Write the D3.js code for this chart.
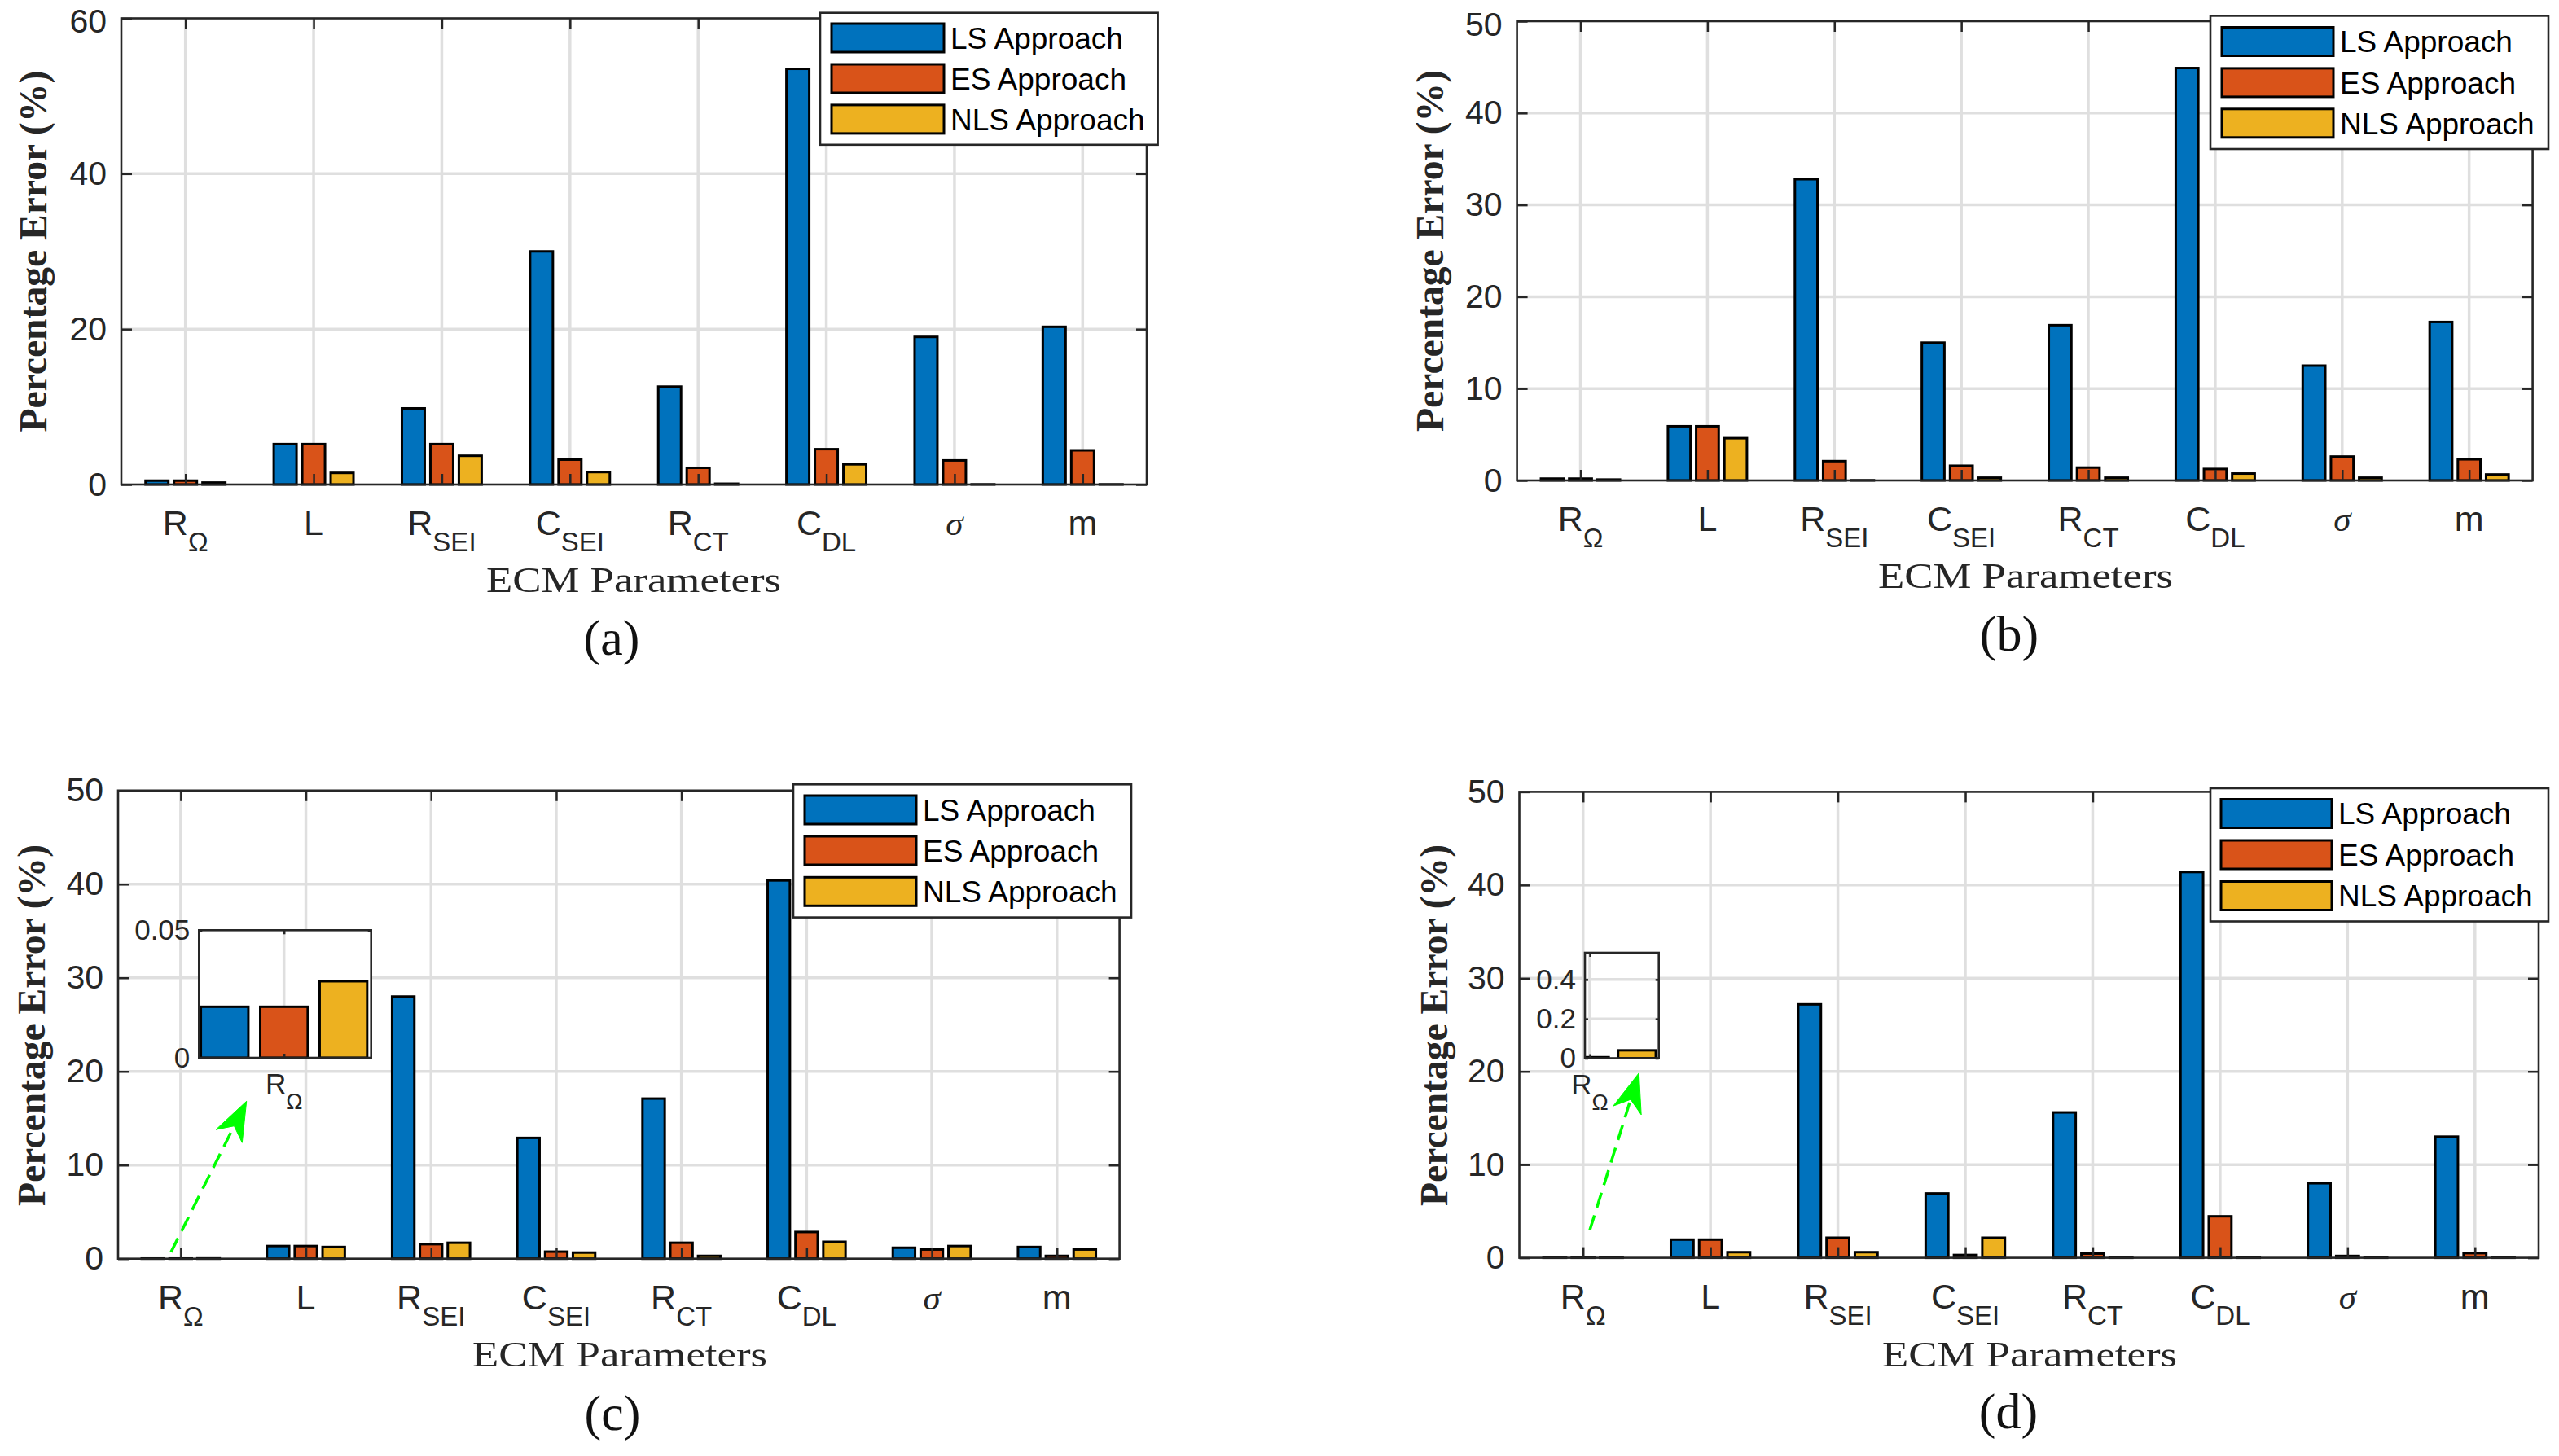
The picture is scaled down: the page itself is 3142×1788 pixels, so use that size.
<!DOCTYPE html>
<html><head><meta charset="utf-8">
<script src="https://cdn.jsdelivr.net/npm/d3@7/dist/d3.min.js"></script>
<style>body{margin:0;background:#fff}svg{display:block}</style>
</head><body>
<svg id="chart" width="3142" height="1788"></svg>
<script>
// ---------------- data ----------------
const categoryMain = ["R", "L", "R", "C", "R", "C", "\u03c3", "m"];
const categorySub  = ["\u03a9", "", "SEI", "SEI", "CT", "DL", "", ""];
const seriesNames  = ["LS Approach", "ES Approach", "NLS Approach"];
const seriesColors = ["#0072BD", "#D95319", "#EDB120"];
const panelLabels  = ["(a)", "(b)", "(c)", "(d)"];
const xAxisTitle = "ECM Parameters";
const yAxisTitle = "Percentage Error (%)";

const lsA  = [0.5, 5.2, 9.8, 30.0, 12.6, 53.5, 19.0, 20.3];
const esA  = [0.5, 5.2, 5.2, 3.2, 2.15, 4.55, 3.1, 4.4];
const nlsA = [0.25, 1.5, 3.7, 1.6, 0.1, 2.6, 0.02, 0.02];

const lsB  = [0.2, 5.9, 32.8, 15.0, 16.9, 44.9, 12.5, 17.25];
const esB  = [0.2, 5.9, 2.1, 1.6, 1.4, 1.25, 2.6, 2.3];
const nlsB = [0.1, 4.6, 0.02, 0.3, 0.3, 0.75, 0.3, 0.65];

const lsC  = [0.02, 1.35, 28.0, 12.9, 17.1, 40.4, 1.17, 1.25];
const esC  = [0.02, 1.35, 1.55, 0.75, 1.7, 2.85, 0.98, 0.3];
const nlsC = [0.03, 1.25, 1.7, 0.65, 0.3, 1.8, 1.35, 0.98];

const lsD  = [0.005, 1.95, 27.2, 6.9, 15.6, 41.4, 8.0, 13.0];
const esD  = [0.005, 1.95, 2.15, 0.3, 0.45, 4.45, 0.2, 0.5];
const nlsD = [0.04, 0.6, 0.6, 2.15, 0.05, 0.05, 0.05, 0.05];

const yTicks60 = [0, 20, 40, 60];
const yTicks50 = [0, 10, 20, 30, 40, 50];
const insetTicksC = [0, 0.05];
const insetTicksD = [0, 0.2, 0.4];

// ---------------- layout ----------------
const panels = [
  {data:[lsA,esA,nlsA], yMax:60, ticks:yTicks60, label:panelLabels[0],
   box:{l:149,r:1408,t:22.5,b:595},
   legend:{l:1007,r:1421.6,t:15.7,b:177.8,sl:1021,sr:1159,rows:[46.5,96.5,146.4]},
   ylab:{x:57,y:308.6}, xlab:{x:778,y:727}, plab:{x:751,y:804}},
  {data:[lsB,esB,nlsB], yMax:50, ticks:yTicks50, label:panelLabels[1],
   box:{l:1862.6,r:3109.6,t:26,b:590},
   legend:{l:2714,r:3129,t:19.4,b:183,sl:2728,sr:2865,rows:[51,101.4,151.3]},
   ylab:{x:1772,y:308}, xlab:{x:2487,y:722}, plab:{x:2467,y:799}},
  {data:[lsC,esC,nlsC], yMax:50, ticks:yTicks50, label:panelLabels[2],
   box:{l:145,r:1374.6,t:970.8,b:1545.7},
   legend:{l:974,r:1389,t:963.3,b:1126.6,sl:988,sr:1125,rows:[994.5,1044.5,1094.8]},
   ylab:{x:55,y:1259}, xlab:{x:761,y:1678}, plab:{x:752,y:1756}},
  {data:[lsD,esD,nlsD], yMax:50, ticks:yTicks50, label:panelLabels[3],
   box:{l:1865.5,r:3117,t:972.4,b:1544.6},
   legend:{l:2714,r:3129,t:968,b:1131.5,sl:2727,sr:2863,rows:[999,1049.5,1100]},
   ylab:{x:1777,y:1259}, xlab:{x:2492,y:1678}, plab:{x:2466,y:1754}}
];

const insets = [
  {panel:2, yMax:0.05, ticks:insetTicksC, xlim:[0.682,1.326],
   box:{l:244.3,r:455.7,t:1142.3,b:1299}},
  {panel:3, yMax:0.536, ticks:insetTicksD, xlim:[0.977,1.325],
   box:{l:1946,r:2036.7,t:1170,b:1299.5}}
];

const arrows = [
  {x1:210, y1:1537.6, x2:302.7, y2:1352.3},
  {x1:1952, y1:1510.6, x2:2012.3, y2:1317.7}
];

const barOffsets = [-0.2222, 0, 0.2222];
const barWidth = 0.1778;
const AX = "#262626";
const GRID = "#dfdfdf";
const SANS = "'Liberation Sans', Arial, Helvetica, sans-serif";
const SERIF = "'Liberation Serif', 'Times New Roman', serif";

const svg = d3.select("#chart");
svg.append("rect").attr("width",3142).attr("height",1788).attr("fill","#fff");

function catLabel(g, cx, base, main, sub, fs, sfs, sdy, italic){
  const t = g.append("text").attr("x", cx).attr("y", base)
    .attr("text-anchor","middle").attr("fill", AX)
    .attr("font-family", italic ? SERIF : SANS).attr("font-size", fs);
  const m = t.append("tspan").text(main);
  if (italic) m.attr("font-style","italic");
  if (sub) t.append("tspan").attr("dy", sdy).attr("font-size", sfs)
              .attr("font-family", SANS).text(sub);
}

function styleAxis(sel, fs){
  sel.select(".domain").remove();
  sel.selectAll(".tick line").attr("stroke", AX).attr("stroke-width", 2.5);
  sel.selectAll(".tick text").attr("fill", AX).attr("font-family", SANS).attr("font-size", fs);
  sel.attr("font-family", null).attr("font-size", null);
}

panels.forEach((p, pi) => {
  const g = svg.append("g");
  const b = p.box;
  const x = d3.scaleLinear().domain([0.5, categoryMain.length + 0.5]).range([b.l, b.r]);
  const y = d3.scaleLinear().domain([0, p.yMax]).range([b.b, b.t]);
  const cats = d3.range(1, categoryMain.length + 1);

  // grid
  g.append("g").selectAll("line").data(p.ticks.filter(d => d > 0 && d < p.yMax)).join("line")
    .attr("x1", b.l).attr("x2", b.r).attr("y1", d => y(d)).attr("y2", d => y(d))
    .attr("stroke", GRID).attr("stroke-width", 3.5);
  g.append("g").selectAll("line").data(cats).join("line")
    .attr("x1", d => x(d)).attr("x2", d => x(d)).attr("y1", b.t).attr("y2", b.b)
    .attr("stroke", GRID).attr("stroke-width", 3.5);

  // bars
  p.data.forEach((vals, s) => {
    g.append("g").selectAll("rect").data(vals).join("rect")
      .attr("x", (d, i) => x(i + 1 + barOffsets[s] - barWidth / 2))
      .attr("width", x(barWidth) - x(0))
      .attr("y", d => y(d)).attr("height", d => y(0) - y(d))
      .attr("fill", seriesColors[s]).attr("stroke", "#000").attr("stroke-width", 3);
  });

  // axes
  const yl = g.append("g").attr("transform", `translate(${b.l},0)`)
    .call(d3.axisLeft(y).tickValues(p.ticks).tickSize(-13).tickPadding(18).tickFormat(d3.format("d")));
  styleAxis(yl, 41);
  // keep the topmost label fully inside the page
  yl.selectAll(".tick text").attr("dy", d => (y(d) < 30 ? "0.42em" : "0.32em"));
  const yr = g.append("g").attr("transform", `translate(${b.r},0)`)
    .call(d3.axisRight(y).tickValues(p.ticks).tickSize(-13).tickFormat(""));
  styleAxis(yr, 41);
  const xb = g.append("g").attr("transform", `translate(0,${b.b})`)
    .call(d3.axisBottom(x).tickValues(cats).tickSize(-13).tickFormat(""));
  styleAxis(xb, 41);
  const xt = g.append("g").attr("transform", `translate(0,${b.t})`)
    .call(d3.axisTop(x).tickValues(cats).tickSize(-13).tickFormat(""));
  styleAxis(xt, 41);
  g.append("rect").attr("x", b.l).attr("y", b.t).attr("width", b.r - b.l).attr("height", b.b - b.t)
    .attr("fill", "none").attr("stroke", AX).attr("stroke-width", 2.6);

  // category labels
  cats.forEach((c, i) => {
    catLabel(g, x(c), b.b + 62, categoryMain[i], categorySub[i], 43, 33, 20, categoryMain[i] === "\u03c3");
  });

  // axis titles
  g.append("text").attr("transform", `translate(${p.ylab.x},${p.ylab.y}) rotate(-90)`)
    .attr("text-anchor", "middle").attr("font-family", SERIF).attr("font-weight", "bold")
    .attr("font-size", 48).attr("fill", AX)
    .attr("textLength", 444).attr("lengthAdjust", "spacingAndGlyphs").text(yAxisTitle);
  g.append("text").attr("x", p.xlab.x).attr("y", p.xlab.y).attr("text-anchor", "middle")
    .attr("font-family", SERIF).attr("font-size", 45).attr("fill", AX)
    .attr("textLength", 362).attr("lengthAdjust", "spacingAndGlyphs").text(xAxisTitle);
  g.append("text").attr("x", p.plab.x).attr("y", p.plab.y).attr("text-anchor", "middle")
    .attr("font-family", SERIF).attr("font-size", 62).attr("fill", "#111").text(p.label);

  // legend
  const L = p.legend;
  const lg = g.append("g");
  lg.append("rect").attr("x", L.l).attr("y", L.t).attr("width", L.r - L.l).attr("height", L.b - L.t)
    .attr("fill", "#fff").attr("stroke", AX).attr("stroke-width", 2.6);
  seriesNames.forEach((nm, s) => {
    lg.append("rect").attr("x", L.sl).attr("y", L.rows[s] - 17.5).attr("width", L.sr - L.sl).attr("height", 35)
      .attr("fill", seriesColors[s]).attr("stroke", "#000").attr("stroke-width", 3);
    lg.append("text").attr("x", L.sr + 8).attr("y", L.rows[s]).attr("dy", "0.36em")
      .attr("font-family", SANS).attr("font-size", 37).attr("fill", "#000").text(nm);
  });
});

// insets
insets.forEach((ins, k) => {
  const p = panels[ins.panel];
  const b = ins.box;
  const g = svg.append("g");
  const x = d3.scaleLinear().domain(ins.xlim).range([b.l, b.r]);
  const y = d3.scaleLinear().domain([0, ins.yMax]).range([b.b, b.t]);
  const clipId = "clip" + k;
  svg.append("clipPath").attr("id", clipId).append("rect")
    .attr("x", b.l).attr("y", b.t).attr("width", b.r - b.l).attr("height", b.b - b.t);
  g.append("rect").attr("x", b.l).attr("y", b.t).attr("width", b.r - b.l).attr("height", b.b - b.t)
    .attr("fill", "#fff");
  const inner = g.append("g").attr("clip-path", `url(#${clipId})`);
  inner.append("g").selectAll("line").data(ins.ticks.filter(d => d > 0 && d < ins.yMax)).join("line")
    .attr("x1", b.l).attr("x2", b.r).attr("y1", d => y(d)).attr("y2", d => y(d))
    .attr("stroke", GRID).attr("stroke-width", 3.5);
  inner.append("line").attr("x1", x(1)).attr("x2", x(1)).attr("y1", b.t).attr("y2", b.b)
    .attr("stroke", GRID).attr("stroke-width", 3.5);
  p.data.forEach((vals, s) => {
    inner.append("rect")
      .attr("x", x(1 + barOffsets[s] - barWidth / 2))
      .attr("width", x(barWidth) - x(0))
      .attr("y", y(vals[0])).attr("height", y(0) - y(vals[0]))
      .attr("fill", seriesColors[s]).attr("stroke", "#000").attr("stroke-width", 3);
  });
  const yl = g.append("g").attr("transform", `translate(${b.l},0)`)
    .call(d3.axisLeft(y).tickValues(ins.ticks).tickSize(-4).tickPadding(11).tickFormat(d => d === 0 ? "0" : String(d)));
  styleAxis(yl, 35);
  const yr = g.append("g").attr("transform", `translate(${b.r},0)`)
    .call(d3.axisRight(y).tickValues(ins.ticks).tickSize(-4).tickFormat(""));
  styleAxis(yr, 35);
  const xt = g.append("g").attr("transform", `translate(0,${b.t})`)
    .call(d3.axisTop(x).tickValues([1]).tickSize(-5).tickFormat(""));
  styleAxis(xt, 35);
  const xb = g.append("g").attr("transform", `translate(0,${b.b})`)
    .call(d3.axisBottom(x).tickValues([1]).tickSize(-5).tickFormat(""));
  styleAxis(xb, 35);
  g.append("rect").attr("x", b.l).attr("y", b.t).attr("width", b.r - b.l).attr("height", b.b - b.t)
    .attr("fill", "none").attr("stroke", AX).attr("stroke-width", 2.6);
  catLabel(g, x(1), b.b + 44, categoryMain[0], categorySub[0], 35, 27, 19, false);
});

// arrows
arrows.forEach(a => {
  const dx = a.x2 - a.x1, dy = a.y2 - a.y1, len = Math.hypot(dx, dy);
  const ux = dx / len, uy = dy / len, px = -uy, py = ux;
  const headL = 48, headW = 18, notch = 34;
  const nx = a.x2 - ux * notch, ny = a.y2 - uy * notch;
  svg.append("line").attr("x1", a.x1).attr("y1", a.y1).attr("x2", nx).attr("y2", ny)
    .attr("stroke", "#00ff00").attr("stroke-width", 3.5).attr("stroke-dasharray", "19 10");
  const pts = [
    [a.x2, a.y2],
    [a.x2 - ux * headL + px * headW, a.y2 - uy * headL + py * headW],
    [nx, ny],
    [a.x2 - ux * headL - px * headW, a.y2 - uy * headL - py * headW]
  ];
  svg.append("path").attr("d", d3.line()(pts) + "Z").attr("fill", "#00ff00").attr("stroke", "#00ff00").attr("stroke-width", 1);
});
</script>
</body></html>
